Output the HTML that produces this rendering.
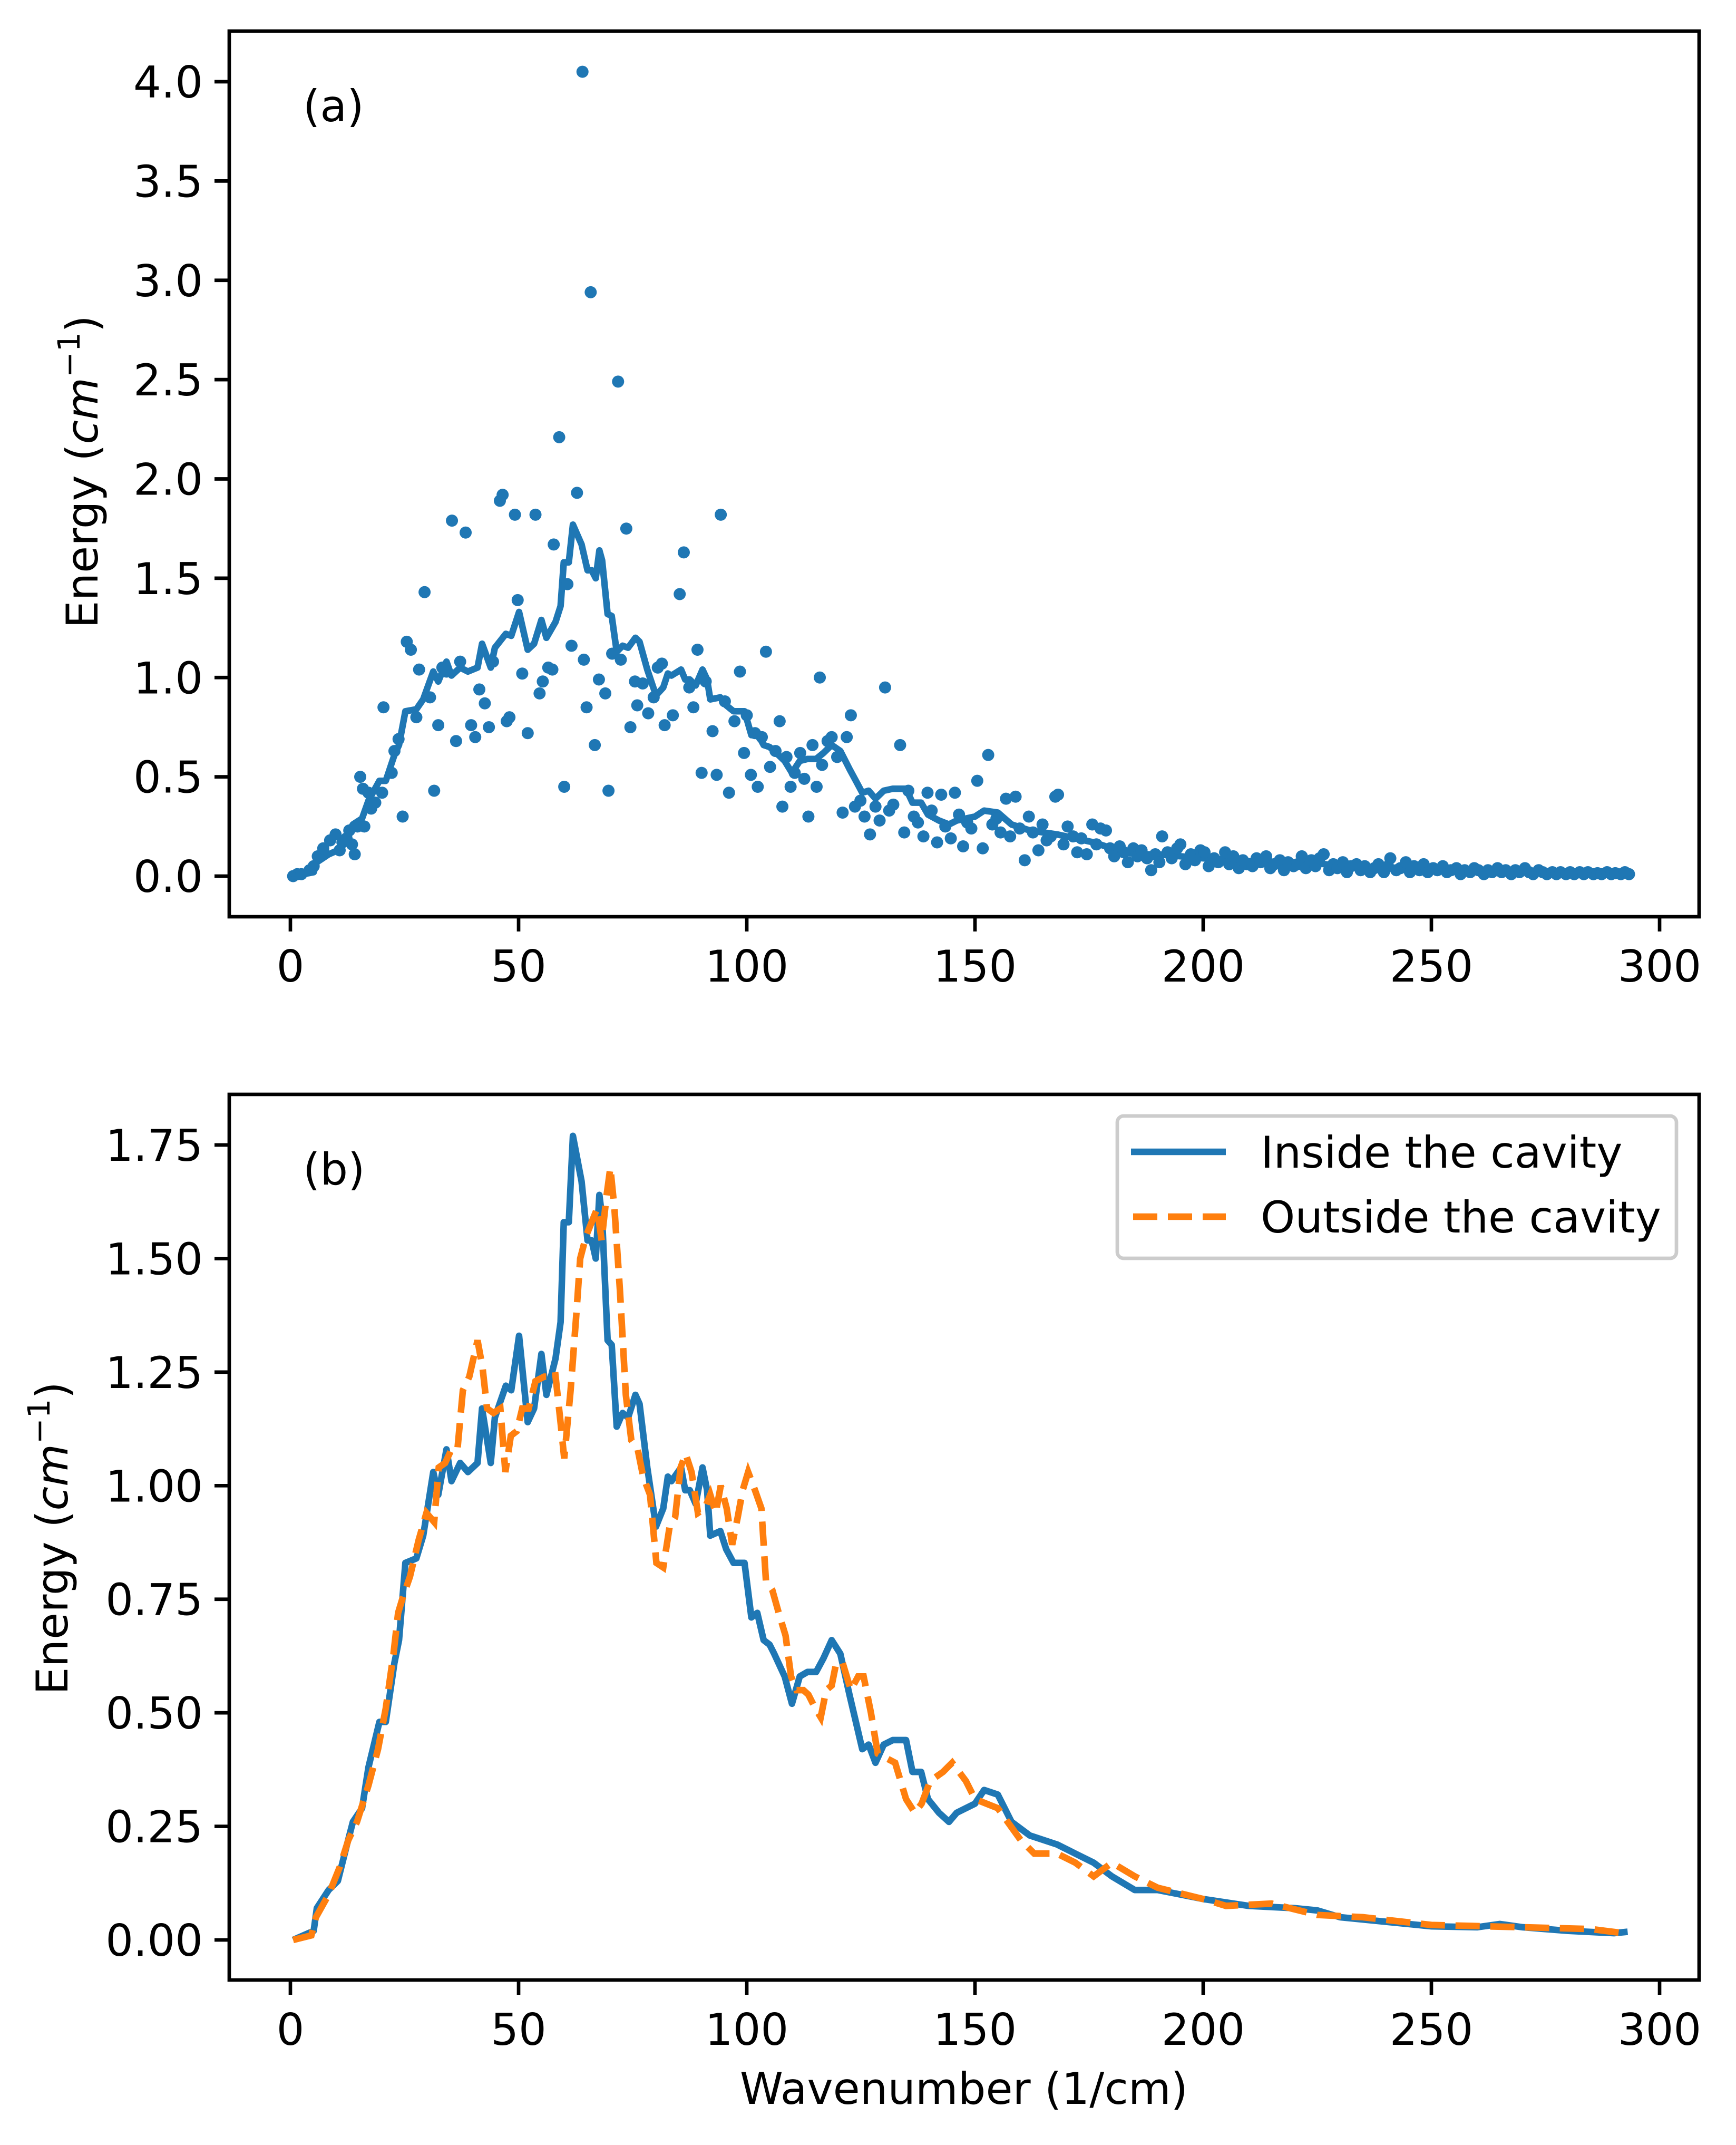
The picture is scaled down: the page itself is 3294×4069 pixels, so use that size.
<!DOCTYPE html>
<html><head><meta charset="utf-8"><style>
html,body{margin:0;padding:0;background:#fff}
svg{display:block}
text{font-family:"DejaVu Sans","Liberation Sans",sans-serif;fill:#000}
</style></head><body>
<svg id="chart" width="3294" height="4069" viewBox="0 0 3294 4069" xmlns="http://www.w3.org/2000/svg">
<rect width="3294" height="4069" fill="#fff"/>
<g id="pa"></g>
<g id="pb"></g>
</svg>
<script>
const xTicks=[0,50,100,150,200,250,300];
const yTicksA=["0.0","0.5","1.0","1.5","2.0","2.5","3.0","3.5","4.0"];
const yTicksB=["0.00","0.25","0.50","0.75","1.00","1.25","1.50","1.75"];
const insideData=[[0.6,0],[5.1,0.02],[5.8,0.07],[8.4,0.11],[10.4,0.13],[12.4,0.21],[13.7,0.26],[15.7,0.29],[17.1,0.38],[19.5,0.48],[20.9,0.48],[22.8,0.61],[23.8,0.66],[25.2,0.83],[27.6,0.84],[29.1,0.89],[31.3,1.03],[32.4,0.98],[34.2,1.08],[35.3,1.01],[37.2,1.05],[38.9,1.03],[41,1.05],[42,1.17],[43.9,1.05],[44.8,1.15],[47.2,1.22],[48.4,1.21],[50.1,1.33],[52,1.14],[53.4,1.17],[55,1.29],[56.1,1.2],[58.1,1.28],[59.2,1.36],[59.9,1.58],[61,1.58],[61.9,1.77],[63.8,1.67],[65.1,1.54],[66,1.54],[66.9,1.5],[67.7,1.64],[68.3,1.59],[69.5,1.32],[70.4,1.31],[71.5,1.13],[72.8,1.16],[74,1.15],[75.6,1.2],[76.5,1.18],[78.2,1.04],[80.1,0.91],[81.7,0.95],[82.7,1.02],[83.5,1.01],[85.6,1.04],[86.5,0.99],[87.5,0.99],[88.8,0.96],[90.3,1.04],[91.3,0.99],[92,0.89],[94.2,0.9],[95.5,0.86],[97.1,0.83],[99.5,0.83],[101,0.71],[102.3,0.72],[103.7,0.66],[105,0.65],[106,0.63],[108.3,0.58],[109.9,0.52],[111.6,0.58],[113.3,0.59],[115.2,0.59],[116.8,0.62],[118.6,0.66],[120.5,0.63],[122.5,0.54],[123.9,0.48],[125.3,0.42],[126.7,0.43],[128.2,0.39],[130,0.43],[132,0.44],[134.9,0.44],[136.3,0.37],[138.2,0.37],[139.7,0.31],[142.1,0.28],[144.3,0.26],[146,0.28],[150,0.3],[152,0.33],[155,0.32],[158,0.26],[162,0.23],[168,0.21],[172,0.19],[176,0.17],[180,0.14],[185,0.11],[190,0.11],[195,0.1],[200,0.09],[210,0.075],[220,0.07],[225,0.065],[230,0.05],[240,0.04],[250,0.03],[260,0.028],[265,0.035],[270,0.028],[280,0.02],[290,0.015],[293,0.018]];
const outsideData=[[0.6,0],[4.6,0.01],[5.6,0.05],[8.4,0.1],[10.8,0.16],[12.7,0.22],[14.6,0.26],[17.1,0.34],[19.2,0.42],[20.9,0.51],[22.6,0.63],[23.6,0.72],[24.5,0.75],[26.2,0.8],[28.1,0.88],[29.8,0.94],[31.5,0.92],[32.5,1.04],[33.9,1.05],[35.3,1.08],[36.6,1.08],[37.8,1.21],[39.2,1.24],[41,1.32],[42.1,1.26],[43.1,1.17],[44.5,1.16],[46,1.17],[47.1,1.03],[48.3,1.11],[49.6,1.12],[50.8,1.17],[52.2,1.17],[53.7,1.23],[55.6,1.24],[56.8,1.24],[58,1.25],[59.3,1.13],[60,1.06],[61.4,1.21],[62.6,1.37],[63.5,1.5],[64.8,1.55],[66,1.58],[67.2,1.61],[68.2,1.54],[69.3,1.64],[70.1,1.7],[71,1.61],[72.2,1.43],[73.5,1.2],[74.7,1.1],[76.1,1.08],[77.3,1.02],[78.8,0.98],[80.2,0.83],[81.7,0.82],[83.1,0.91],[84.3,0.93],[85.5,1.04],[86.6,1.07],[87.9,1.03],[89.3,0.94],[90.8,0.95],[92,0.98],[93.2,0.94],[94.3,1],[95.6,0.95],[96.8,0.87],[98,0.93],[99.1,0.99],[100.3,1.03],[101.8,0.99],[103.2,0.95],[104.2,0.79],[105.6,0.77],[107,0.72],[108.5,0.67],[109.7,0.58],[110.9,0.55],[112.4,0.55],[113.5,0.54],[115,0.51],[116.2,0.49],[117.4,0.55],[118.6,0.56],[119.6,0.61],[121,0.61],[122.8,0.55],[124.4,0.58],[125.6,0.58],[127.2,0.5],[128.7,0.41],[130.6,0.4],[132.5,0.39],[134.9,0.31],[136.8,0.28],[138.3,0.3],[140.2,0.35],[143,0.37],[145,0.39],[148,0.35],[150,0.31],[155,0.29],[160,0.22],[163,0.19],[168,0.19],[172,0.17],[176,0.14],[180,0.17],[185,0.14],[190,0.115],[200,0.09],[205,0.075],[215,0.08],[225,0.055],[235,0.05],[250,0.033],[270,0.028],[285,0.024],[292,0.015]];
const scatterData=[[0.6,0],[1.5,0.01],[2.4,0.01],[4.2,0.03],[5.1,0.05],[6,0.1],[7.2,0.14],[8.7,0.18],[9.9,0.21],[11.4,0.17],[10.8,0.13],[12.3,0.19],[13.5,0.16],[14.1,0.11],[12.9,0.23],[14.7,0.25],[16.2,0.25],[15.3,0.5],[15.9,0.44],[17.1,0.42],[18.6,0.37],[17.7,0.34],[20.1,0.42],[20.4,0.85],[22.2,0.52],[22.8,0.63],[23.7,0.69],[24.6,0.3],[25.5,1.18],[26.4,1.14],[27.6,0.8],[28.2,1.04],[29.4,1.43],[30.6,0.9],[31.5,0.43],[32.4,0.76],[33.3,1.05],[34.2,1.03],[35.4,1.79],[36.3,0.68],[37.2,1.08],[38.4,1.73],[39.6,0.76],[40.5,0.7],[41.4,0.94],[42.6,0.87],[43.5,0.75],[44.4,1.08],[45.9,1.89],[46.5,1.92],[47.4,0.78],[48,0.8],[49.2,1.82],[49.8,1.39],[50.8,1.02],[52,0.72],[53.7,1.82],[54.6,0.92],[55.3,0.98],[56.5,1.05],[57.4,1.04],[57.7,1.67],[58.9,2.21],[60,0.45],[60.7,1.47],[61.6,1.16],[62.8,1.93],[64,4.05],[64.3,1.09],[64.9,0.85],[65.8,2.94],[66.7,0.66],[67.6,0.99],[69,0.92],[69.7,0.43],[70.5,1.12],[71.8,2.49],[72.4,1.09],[73.6,1.75],[74.5,0.75],[75.5,0.98],[76,0.86],[77.2,0.97],[78.4,0.82],[79.6,0.9],[80.5,1.05],[81.4,1.07],[82,0.76],[83.8,0.81],[85.3,1.42],[86.2,1.63],[87.4,0.95],[88.3,0.85],[89.2,1.14],[90.1,0.52],[91,0.98],[92.5,0.73],[93.4,0.51],[94.3,1.82],[95.2,0.88],[96.1,0.42],[97.3,0.78],[98.5,1.03],[99.4,0.62],[100,0.81],[100.9,0.51],[101.8,0.72],[102.4,0.45],[103.3,0.7],[104.2,1.13],[105.1,0.55],[106.3,0.63],[107.2,0.78],[107.8,0.35],[108.7,0.6],[109.6,0.45],[110.5,0.52],[111.7,0.62],[112.6,0.49],[113.5,0.3],[114.4,0.66],[115.3,0.45],[116,1],[116.5,0.56],[117.7,0.68],[118.6,0.7],[119.8,0.6],[121,0.32],[121.9,0.7],[122.8,0.81],[123.7,0.35],[124.9,0.38],[125.8,0.3],[127,0.21],[128.2,0.35],[129.1,0.28],[130.3,0.95],[131.2,0.33],[132.1,0.36],[133.6,0.66],[134.5,0.22],[135.4,0.43],[136.6,0.3],[137.5,0.27],[138.7,0.2],[139.6,0.42],[140.5,0.33],[141.7,0.17],[142.6,0.41],[143.5,0.25],[144.7,0.19],[145.6,0.42],[146.5,0.31],[147.4,0.15],[148.3,0.27],[149.2,0.24],[150.5,0.48],[151.7,0.14],[152.9,0.61],[153.8,0.26],[154.7,0.29],[155.6,0.22],[156.8,0.39],[157.7,0.2],[158.9,0.4],[159.8,0.24],[160.9,0.08],[161.8,0.3],[162.7,0.22],[163.9,0.13],[164.8,0.26],[165.7,0.18],[166.6,0.2],[167.6,0.4],[168.2,0.41],[169.4,0.16],[170.3,0.25],[171.5,0.2],[172.4,0.12],[173.3,0.19],[174.5,0.11],[175.7,0.26],[176.6,0.16],[177.5,0.24],[178.7,0.23],[179.6,0.14],[180.5,0.1],[181.7,0.15],[182.6,0.12],[183.5,0.07],[184.7,0.14],[185.6,0.1],[186.5,0.13],[187.7,0.09],[188.6,0.03],[189.5,0.11],[190.4,0.07],[191,0.2],[192.2,0.12],[193.1,0.09],[194.3,0.14],[195,0.16],[196.1,0.06],[197.3,0.11],[198.2,0.08],[199.4,0.13],[200.3,0.12],[201.2,0.05],[202.4,0.09],[203.3,0.07],[204.8,0.12],[205.7,0.06],[206.6,0.1],[207.8,0.04],[208.7,0.08],[209.6,0.06],[210.8,0.05],[211.7,0.09],[212.6,0.07],[213.8,0.1],[214.7,0.04],[215.6,0.06],[216.8,0.08],[217.7,0.03],[218.6,0.07],[219.8,0.05],[220.7,0.06],[221.6,0.1],[222.5,0.04],[223.7,0.08],[224.6,0.05],[225.5,0.09],[226.4,0.11],[227.6,0.03],[228.5,0.06],[229.4,0.04],[230.6,0.07],[231.5,0.02],[232.4,0.05],[233.6,0.06],[234.5,0.03],[235.4,0.05],[236.6,0.02],[237.5,0.04],[238.4,0.06],[239.6,0.02],[240.5,0.05],[241,0.09],[242.3,0.03],[243.2,0.04],[244.4,0.07],[245.3,0.02],[246.2,0.05],[247.4,0.03],[248.3,0.06],[249.2,0.02],[250.4,0.04],[251.3,0.03],[252.5,0.05],[253.4,0.02],[254.3,0.03],[255.5,0.04],[256.4,0.01],[257.3,0.03],[258.5,0.02],[259.4,0.04],[260.3,0.03],[261.5,0.01],[262.4,0.03],[263.3,0.02],[264.5,0.04],[265.4,0.02],[266.3,0.03],[267.5,0.01],[268.4,0.03],[269.3,0.02],[270.5,0.04],[271.4,0.02],[272.3,0.01],[273.5,0.03],[274.4,0.02],[275.3,0.01],[276.5,0.02],[277.4,0.01],[278.3,0.02],[279.5,0.01],[280.4,0.02],[281.3,0.01],[282.5,0.02],[283.4,0.01],[284.3,0.02],[285.5,0.01],[286.4,0.015],[287.3,0.01],[288.5,0.02],[289.4,0.01],[290.3,0.015],[291.5,0.01],[292.4,0.02],[293.3,0.01]];

const NS="http://www.w3.org/2000/svg";
const BLUE="#1f77b4",ORANGE="#ff7f0e";
const L=435,R=3224;
function xs(v){return 551+v*8.66;}
function ysA(v){return 1662-v*376.75;}
function ysB(v){return 3680-v*861.7;}
function mk(tag,parent,attrs){const e=document.createElementNS(NS,tag);for(const k in attrs)e.setAttribute(k,attrs[k]);parent.appendChild(e);return e;}
function pathFrom(data,ys){return data.map((p,i)=>(i?"L":"M")+xs(p[0]).toFixed(1)+","+ys(p[1]).toFixed(1)).join("");}

function axes(g,top,bot,ys,yt,isB){
  xTicks.forEach(t=>{
    const x=xs(t);
    const tk=mk("line",g,{x1:x,x2:x,y1:bot,y2:bot+28,stroke:"#000","stroke-width":6.7});
    
    
    const tl=mk("text",g,{x:x,y:bot+123,"font-size":83,"text-anchor":"middle"});
    tl.textContent=String(t);
    
    
  });
  yt.forEach(s=>{
    const y=ys(parseFloat(s));
    const tk=mk("line",g,{x1:L-28,x2:L,y1:y,y2:y,stroke:"#000","stroke-width":6.7});
    
    
    const tl=mk("text",g,{x:L-50,y:y+30,"font-size":83,"text-anchor":"end"});
    tl.textContent=s;
    
    
  });
}
function frame(g,top,bot){
  const f=mk("rect",g,{x:L,y:top,width:R-L,height:bot-top,fill:"none",stroke:"#000","stroke-width":6.7});
  
  
}
function ylabel(g,cx,cy){
  const t=mk("text",g,{x:0,y:0,"font-size":83,"text-anchor":"middle",transform:`translate(${cx},${cy}) rotate(-90)`});
  t.innerHTML='Energy (<tspan font-style="italic">cm</tspan><tspan font-size="58" dy="-34">−1</tspan><tspan dy="34">)</tspan>';
  
  
}

// Panel A
const pa=document.getElementById('pa');
const topA=59,botA=1739;
axes(pa,topA,botA,ysA,yTicksA,false);
const la=mk("path",pa,{d:pathFrom(insideData,ysA),fill:"none",stroke:BLUE,"stroke-width":12.5,"stroke-linejoin":"round"});


scatterData.forEach(p=>{
  const c=mk("circle",pa,{cx:xs(p[0]),cy:ysA(p[1]),r:11.5,fill:BLUE});
  
  
});
frame(pa,topA,botA);
ylabel(pa,185,895);
const lblA=mk("text",pa,{x:575,y:230,"font-size":83});lblA.textContent="(a)";



// Panel B
const pb=document.getElementById('pb');
const topB=2076,botB=3756;
axes(pb,topB,botB,ysB,yTicksB,true);
const lb=mk("path",pb,{d:pathFrom(insideData,ysB),fill:"none",stroke:BLUE,"stroke-width":12.5,"stroke-linejoin":"round"});


const lo=mk("path",pb,{d:pathFrom(outsideData,ysB),fill:"none",stroke:ORANGE,"stroke-width":12.5,"stroke-dasharray":"46,20"});


frame(pb,topB,botB);
ylabel(pb,128,2918);
const lblB=mk("text",pb,{x:575,y:2247,"font-size":83});lblB.textContent="(b)";


const xl=mk("text",pb,{x:1829,y:3991,"font-size":83,"text-anchor":"middle"});xl.textContent="Wavenumber (1/cm)";



// Legend
const lg=mk("g",pb,{});


const lbx=mk("rect",lg,{x:2120,y:2117,width:1061,height:270,rx:12,fill:"#fff","fill-opacity":0.8,stroke:"#cccccc","stroke-width":6.7});


const l1=mk("line",lg,{x1:2146,x2:2326,y1:2185,y2:2185,stroke:BLUE,"stroke-width":12.5});


const t1=mk("text",lg,{x:2392,y:2215,"font-size":83});t1.textContent="Inside the cavity";


const l2=mk("line",lg,{x1:2150,x2:2326,y1:2308,y2:2308,stroke:ORANGE,"stroke-width":12.5,"stroke-dasharray":"46,20"});


const t2=mk("text",lg,{x:2392,y:2338,"font-size":83});t2.textContent="Outside the cavity";


</script>
</body></html>
